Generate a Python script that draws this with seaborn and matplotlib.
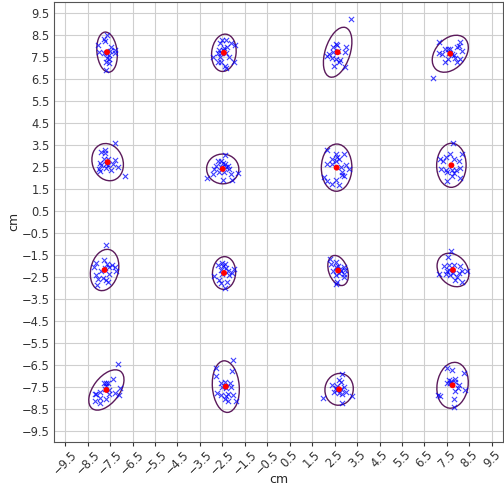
import numpy as np
import pandas as pd
import matplotlib
matplotlib.use("Agg")
import matplotlib.pyplot as plt
import seaborn as sns
from matplotlib.patches import Ellipse

# measured hit positions (cm), one pair of lists per target
a_x = [-8.04, -8.01, -7.78, -7.73, -7.64, -7.67, -7.56, -7.51, -7.45, -7.28, -7.28, -7.63, -7.53, -7.70, -7.56, -7.67, -7.79]
a_y = [8.03, 7.70, 8.29, 8.20, 8.50, 7.68, 7.58, 7.73, 7.95, 7.80, 7.65, 7.42, 7.38, 7.23, 7.20, 6.89, 7.65]
b_x = [-2.52, -2.34, -2.12, -1.93, -2.59, -2.31, -2.41, -2.67, -2.49, -2.71, -2.58, -2.34, -2.93, -2.59, -2.19, -2.68, -2.55, -2.00, -2.37, -2.34]
b_y = [8.26, 8.23, 8.11, 8.03, 8.11, 7.95, 7.88, 7.80, 7.80, 7.68, 7.65, 7.65, 7.50, 7.47, 7.47, 7.24, 7.24, 7.24, 7.09, 6.97]
c_x = [3.24, 2.55, 2.62, 2.44, 2.99, 2.25, 2.44, 2.67, 2.96, 2.40, 2.55, 2.74, 2.70, 2.47, 2.96, 2.18]
c_y = [9.21, 8.08, 8.03, 7.95, 7.95, 7.61, 7.70, 7.77, 7.70, 7.45, 7.39, 7.35, 7.27, 7.09, 7.02, 7.53]
d_x = [6.89, 7.14, 7.42, 7.17, 7.29, 7.55, 7.66, 7.73, 7.82, 7.85, 7.96, 8.03, 8.10, 8.18, 7.41, 7.55, 7.96, 8.07, 7.61]
d_y = [6.52, 8.18, 7.83, 7.68, 7.61, 7.83, 7.86, 7.61, 7.58, 7.42, 7.91, 8.00, 8.18, 7.73, 7.27, 7.38, 7.27, 7.38, 7.64]

e_x = [-7.30, -7.90, -7.75, -7.72, -7.97, -8.00, -7.97, -7.90, -7.78, -7.60, -7.70, -7.60, -7.38, -7.30, -7.16, -7.45, -6.83, -7.67]
e_y = [3.59, 3.15, 3.26, 3.12, 2.65, 2.39, 2.29, 2.55, 2.83, 2.85, 2.61, 2.58, 2.61, 2.80, 2.47, 2.32, 2.08, 2.42]
f_x = [-2.37, -2.68, -2.56, -2.49, -2.39, -2.56, -2.34, -2.27, -2.79, -2.86, -2.19, -2.64, -2.42, -2.12, -1.82, -2.93, -3.19, -2.09, -2.49]
f_y = [3.03, 2.77, 2.73, 2.65, 2.62, 2.50, 2.47, 2.53, 2.53, 2.39, 2.39, 2.27, 2.24, 2.15, 2.20, 2.17, 1.97, 1.89, 1.89]
g_x = [2.18, 2.55, 2.62, 2.92, 2.37, 2.55, 2.70, 2.15, 2.40, 2.77, 2.99, 3.14, 2.84, 2.81, 2.92, 2.03, 2.18, 2.55, 2.70, 2.40]
g_y = [3.26, 3.06, 2.95, 3.08, 2.85, 2.76, 2.85, 2.61, 2.61, 2.47, 2.55, 2.39, 2.24, 2.12, 2.05, 2.02, 1.82, 1.89, 1.67, 1.71]
h_x = [7.76, 7.21, 7.33, 7.48, 7.66, 7.81, 8.06, 8.18, 7.24, 7.48, 7.51, 7.73, 7.81, 7.91, 8.10, 8.10, 7.51, 7.73]
h_y = [3.59, 2.83, 2.76, 2.95, 3.06, 2.85, 2.77, 3.06, 2.39, 2.35, 2.23, 2.35, 2.20, 2.35, 2.42, 1.97, 1.82, 2.05]

i_x = [-7.67, -8.12, -8.22, -7.78, -7.64, -7.53, -7.42, -7.30, -7.23, -8.12, -8.03, -8.07, -7.82, -7.70, -7.59, -7.56, -7.75, -7.90]
i_y = [-1.08, -1.89, -2.08, -1.74, -1.92, -2.05, -1.97, -2.08, -2.23, -2.42, -2.61, -2.88, -2.58, -2.65, -2.73, -2.38, -2.12, -2.27]
j_x = [-2.71, -2.52, -2.37, -2.34, -2.56, -2.27, -2.07, -2.00, -2.89, -2.67, -2.56, -2.31, -2.37, -2.19, -2.46, -2.52]
j_y = [-1.97, -1.89, -1.94, -2.12, -2.20, -2.27, -2.35, -2.15, -2.47, -2.68, -2.80, -2.77, -3.02, -2.42, -2.02, -2.38]
k_x = [2.28, 2.33, 2.55, 2.55, 2.67, 2.74, 2.92, 2.95, 2.92, 2.92, 2.70, 2.55, 2.44, 2.62, 2.58, 2.77]
k_y = [-1.71, -1.92, -1.82, -2.05, -2.00, -2.14, -2.05, -2.20, -2.38, -2.50, -2.35, -2.44, -2.27, -2.73, -2.85, -2.23]
l_x = [7.70, 7.56, 7.38, 7.59, 7.81, 8.10, 7.61, 7.44, 7.66, 7.76, 8.03, 8.18, 8.40, 7.17, 7.85, 8.18, 7.96, 7.51]
l_y = [-1.32, -1.62, -2.00, -1.98, -1.98, -2.02, -2.20, -2.39, -2.42, -2.32, -2.35, -2.27, -2.27, -2.38, -2.65, -2.73, -2.53, -2.23]

m_x = [-7.16, -7.35, -7.70, -7.60, -7.67, -7.75, -7.94, -8.15, -8.19, -7.97, -7.70, -7.53, -7.29, -7.11, -7.05, -8.19, -7.97, -7.56, -7.79]
m_y = [-6.48, -7.15, -7.32, -7.35, -7.47, -7.62, -7.73, -7.85, -7.86, -8.03, -8.08, -7.85, -7.80, -7.88, -7.58, -8.18, -8.26, -7.65, -7.36]
n_x = [-2.01, -2.79, -2.07, -2.79, -2.56, -2.39, -2.16, -2.52, -2.34, -2.12, -2.76, -2.56, -2.34, -2.24, -2.04, -2.39, -2.27, -1.90]
n_y = [-6.30, -6.67, -6.79, -7.00, -7.35, -7.30, -7.35, -7.53, -7.58, -7.53, -7.80, -7.88, -7.91, -7.83, -7.88, -8.06, -8.18, -8.15]
o_x = [2.84, 2.70, 2.77, 2.40, 2.55, 2.62, 2.77, 2.92, 2.99, 2.47, 2.70, 2.84, 3.26, 1.96, 2.81, 2.59]
o_y = [-6.94, -7.20, -7.29, -7.42, -7.58, -7.65, -7.62, -7.53, -7.73, -7.73, -7.80, -7.86, -7.95, -8.03, -8.26, -7.47]
p_x = [7.51, 7.73, 8.25, 7.59, 7.70, 7.85, 7.88, 7.51, 8.03, 8.00, 7.88, 8.30, 7.11, 7.19, 7.81, 7.81, 7.66]
p_y = [-6.67, -6.74, -6.89, -7.20, -7.24, -7.15, -7.29, -7.35, -7.42, -7.58, -7.70, -7.65, -7.88, -7.92, -8.08, -8.45, -7.35]

groups = [(a_x, a_y), (b_x, b_y), (c_x, c_y), (d_x, d_y),
          (e_x, e_y), (f_x, f_y), (g_x, g_y), (h_x, h_y),
          (i_x, i_y), (j_x, j_y), (k_x, k_y), (l_x, l_y),
          (m_x, m_y), (n_x, n_y), (o_x, o_y), (p_x, p_y)]

ticks = np.arange(-9.5, 10, 1.0)

rows = []
for gid, (gx, gy) in enumerate(groups):
    for xv, yv in zip(gx, gy):
        rows.append({"group": gid, "x": xv, "y": yv})
df = pd.DataFrame(rows)
means = df.groupby("group")[["x", "y"]].mean().reset_index()

sns.set_style("whitegrid", {"grid.color": "#cfcfcf", "axes.edgecolor": "#555555",
                            "xtick.bottom": True, "ytick.left": False})
plt.rcParams["font.family"] = ["DejaVu Sans"]

fig = plt.figure(figsize=(5.04, 4.91), dpi=100)
ax = fig.add_axes([54 / 504, 49.5 / 491, 449 / 504, 440 / 491])

sns.scatterplot(data=df, x="x", y="y", marker="x", color="blue", s=14,
                linewidth=0.8, alpha=0.75, ax=ax, zorder=3)
sns.scatterplot(data=means, x="x", y="y", color="red", s=18, edgecolor="none",
                ax=ax, zorder=4)

# covariance ellipse for each target
n_std = 2.2
for gx, gy in groups:
    cov = np.cov(gx, gy)
    vals, vecs = np.linalg.eigh(cov)
    order = vals.argsort()[::-1]
    vals, vecs = vals[order], vecs[:, order]
    angle = np.degrees(np.arctan2(vecs[1, 0], vecs[0, 0]))
    w, h = 2 * n_std * np.sqrt(vals)
    ell = Ellipse((np.mean(gx), np.mean(gy)), w, h, angle=angle,
                  fill=False, edgecolor="#5b1a5b", linewidth=1.0, zorder=2)
    ax.add_patch(ell)

ax.set_xlim(-10, 10)
ax.set_ylim(-10, 10)
ax.set_xticks(ticks)
ax.set_yticks(ticks)
ax.set_xticklabels([f"{t:.1f}".replace("-", "\u2212") for t in ticks], rotation=45, fontsize=8.3)
ax.set_yticklabels([f"{t:.1f}".replace("-", "\u2212") for t in ticks], fontsize=8.3)
ax.tick_params(axis="x", length=3, width=0.8, colors="#333333", pad=1.5)
ax.tick_params(axis="y", length=0, colors="#333333", pad=3)
ax.set_xlabel("cm", fontsize=9)
ax.set_ylabel("cm", fontsize=9)
ax.xaxis.set_label_coords(0.5, -0.072)
ax.yaxis.set_label_coords(-0.076, 0.5)
for s in ax.spines.values():
    s.set_linewidth(0.8)

fig.savefig("out.png", dpi=100)
